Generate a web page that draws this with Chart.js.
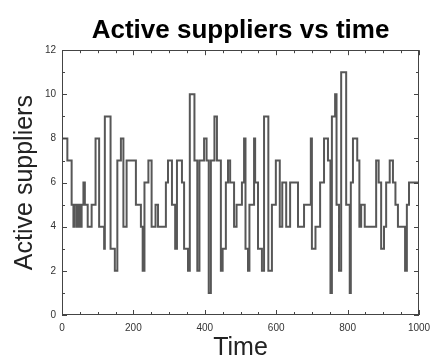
<!DOCTYPE html>
<html>
<head>
<meta charset="utf-8">
<script src="https://cdn.jsdelivr.net/npm/chart.js@4.4.0/dist/chart.umd.min.js"></script>
<style>
  html, body { margin: 0; padding: 0; background: #fff; }
  #wrap { width: 430px; height: 358px; }
</style>
</head>
<body>
<div id="wrap"><canvas id="c" width="430" height="358"></canvas></div>
<script>
// Step changes: value holds from time[i] until time[i+1]
const times  = [0,15,27,32,36,42,46,50,55,60,64,72,83,94,104,118,120,136,148,155,165,172,181,207,221,226,231,242,251,262,269,291,297,308,317,322,336,342,353,358,371,379,385,398,405,411,417,427,434,445,450,459,465,471,482,489,504,510,514,521,525,538,541,549,560,566,578,588,599,610,617,628,639,661,678,697,700,710,723,734,745,752,756,765,769,776,782,796,806,809,815,827,833,838,848,880,887,894,902,908,918,927,934,941,961,966,972,981,1000];
const values = [0,8,7,5,4,5,4,5,4,5,6,5,4,5,8,4,3,9,3,2,7,8,4,7,5,4,2,6,7,4,5,4,6,7,5,3,7,6,3,2,10,7,2,7,8,7,1,7,9,7,2,3,6,7,6,4,5,6,8,3,2,5,8,6,3,2,9,2,5,7,4,6,4,6,4,5,8,3,4,6,8,7,1,9,10,5,2,11,5,1,6,8,7,4,5,4,7,6,3,4,6,7,6,5,4,2,5,6,6];
const xTickValues = [0,200,400,600,800,1000];
const yTickValues = [0,2,4,6,8,10,12];

const points = times.map((t, i) => ({ x: t, y: values[i] }));

const frameTicks = {
  id: 'frameTicks',
  afterDatasetsDraw(chart) {
    const { ctx, chartArea: a, scales: { x, y } } = chart;
    ctx.save();
    ctx.strokeStyle = '#444';
    ctx.lineWidth = 1;
    ctx.strokeRect(Math.round(a.left) + 0.5, Math.round(a.top) + 0.5,
                   Math.round(a.right - a.left) - 1, Math.round(a.bottom - a.top) - 1);
    ctx.beginPath();
    for (let v = 0; v <= 1000; v += 50) {
      const px = Math.round(x.getPixelForValue(v)) + 0.5;
      const len = (v % 200 === 0) ? 5 : 3;
      ctx.moveTo(px, a.bottom); ctx.lineTo(px, a.bottom - len);
      ctx.moveTo(px, a.top); ctx.lineTo(px, a.top + len);
    }
    for (let v = 0; v <= 12; v += 1) {
      const py = Math.round(y.getPixelForValue(v)) + 0.5;
      const len = (v % 2 === 0) ? 5 : 3;
      ctx.moveTo(a.left, py); ctx.lineTo(a.left + len, py);
      ctx.moveTo(a.right, py); ctx.lineTo(a.right - len, py);
    }
    ctx.stroke();
    ctx.restore();
  }
};

new Chart(document.getElementById('c'), {
  type: 'line',
  data: {
    datasets: [{
      data: points,
      stepped: 'after',
      borderColor: '#575757',
      borderWidth: 2,
      pointRadius: 0,
      fill: false,
      tension: 0
    }]
  },
  options: {
    responsive: false,
    animation: false,
    devicePixelRatio: 1,
    layout: { padding: { left: 0, right: 11, top: 0, bottom: 0 }, autoPadding: false },
    plugins: {
      legend: { display: false },
      tooltip: { enabled: false },
      title: {
        display: true,
        text: 'Active suppliers vs time',
        fullSize: false,
        color: '#000',
        font: { family: 'Liberation Sans, Arial, sans-serif', size: 26, weight: 'bold', lineHeight: 1.2 },
        padding: { top: 15, bottom: 4 }
      }
    },
    scales: {
      x: {
        type: 'linear',
        min: 0, max: 1000,
        afterBuildTicks(s) { s.ticks = xTickValues.map(v => ({ value: v })); },
        afterFit(s) { s.height = 43; s.paddingLeft = 0; s.paddingRight = 0; },
        grid: { display: false, drawTicks: false },
        border: { display: false },
        ticks: { color: '#333', padding: 7, maxRotation: 0, autoSkip: false,
                 callback: v => String(v),
                 font: { family: 'Liberation Sans, Arial, sans-serif', size: 10 } },
        title: { display: true, text: 'Time', color: '#222',
                 font: { family: 'Liberation Sans, Arial, sans-serif', size: 25, lineHeight: 0.8 },
                 padding: { top: 0, bottom: 0 } }
      },
      y: {
        type: 'linear',
        min: 0, max: 12,
        afterBuildTicks(s) { s.ticks = yTickValues.map(v => ({ value: v })); },
        afterFit(s) { s.width = 62; s.paddingTop = 0; s.paddingBottom = 0; },
        grid: { display: false, drawTicks: false },
        border: { display: false },
        ticks: { color: '#333', padding: 6, autoSkip: false,
                 callback: v => String(v),
                 font: { family: 'Liberation Sans, Arial, sans-serif', size: 10 } },
        title: { display: true, text: 'Active suppliers', color: '#222',
                 font: { family: 'Liberation Sans, Arial, sans-serif', size: 25, lineHeight: 1.2 },
                 padding: { top: 10, bottom: 0 } }
      }
    }
  },
  plugins: [frameTicks]
});
</script>
</body>
</html>
